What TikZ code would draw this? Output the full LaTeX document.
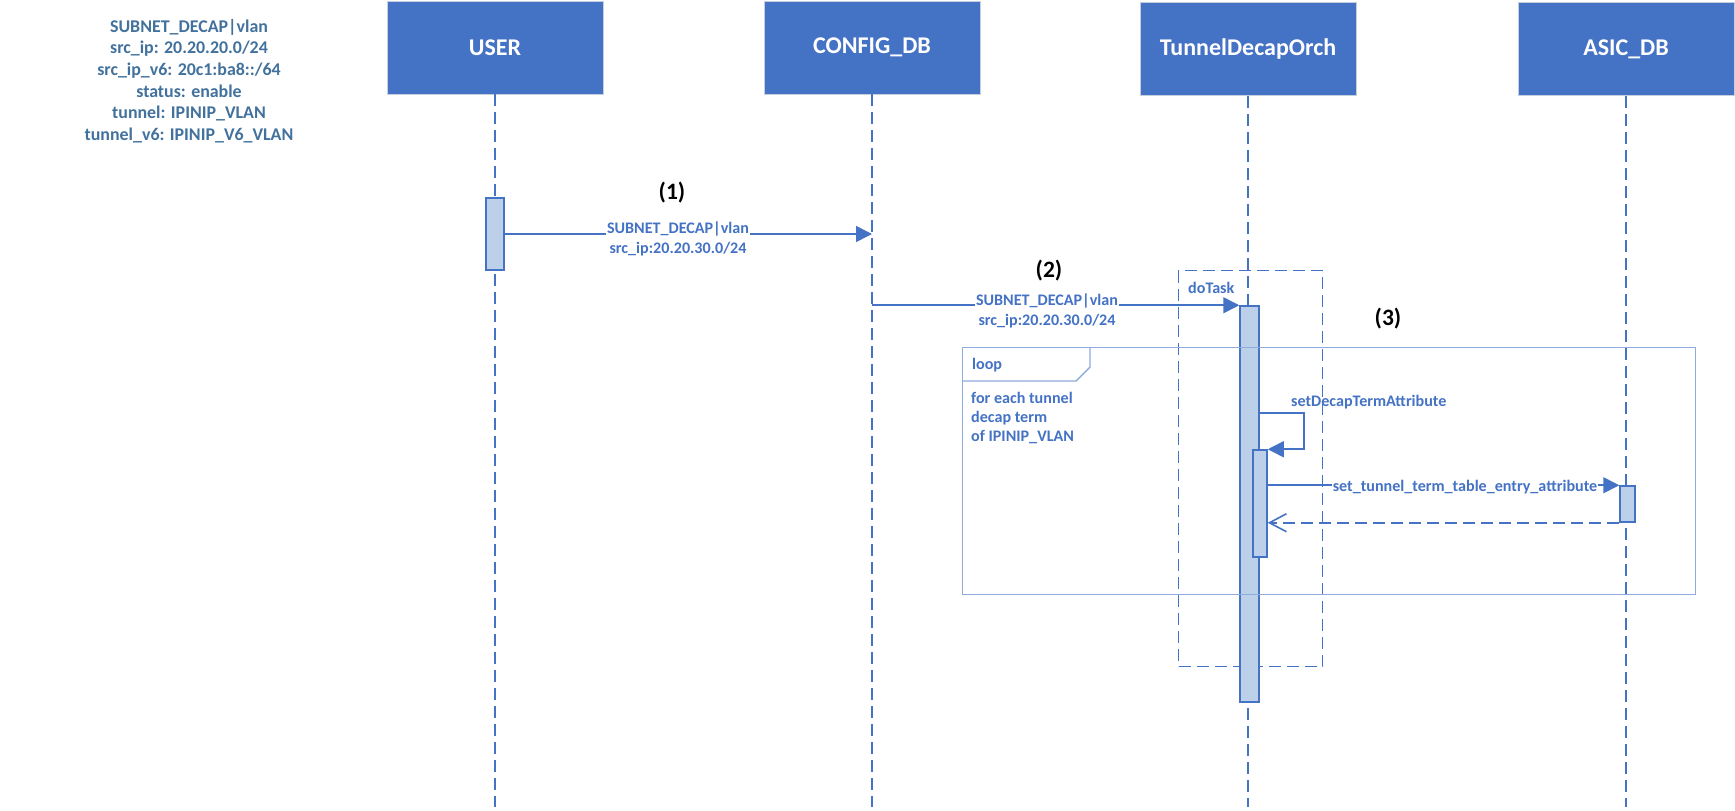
\documentclass[tikz,border=0pt]{standalone}
\usepackage{fontspec}
\setmainfont{Carlito}
\usetikzlibrary{arrows.meta}
\definecolor{bleu}{HTML}{4472C4}
\definecolor{bleupale}{HTML}{BDD0EA}
\definecolor{cadrebleu}{HTML}{8FAADC}
\definecolor{bordure}{HTML}{C5CEDD}
\definecolor{texte}{HTML}{41719C}
\begin{document}
\begin{tikzpicture}[x=1pt,y=-1pt,
  tete/.style={fill=bleu, draw=bordure, line width=0.8pt, text=white, inner sep=0pt,
    font=\fontsize{24}{28}\selectfont\bfseries, minimum width=216pt, minimum height=93pt},
  vie/.style={bleu, line width=2pt, dash pattern=on 12pt off 6pt},
  barre/.style={fill=bleupale, draw=bleu, line width=1.5pt, inner sep=0pt},
  msg/.style={bleu, line width=1.6pt, -{Triangle[length=16pt,width=16pt]}},
  retour/.style={bleu, line width=1.6pt, dash pattern=on 12pt off 6pt, -{Straight Barb[length=17pt,width=18pt]}},
  etiq/.style={text=bleu, font=\fontsize{16.1}{19}\selectfont\bfseries, inner sep=1pt},
  numero/.style={font=\fontsize{23.5}{27}\selectfont\bfseries},
  tache/.style={draw=bleu, line width=1.4pt, dash pattern=on 12pt off 6pt},
  cadre/.style={draw=cadrebleu, line width=1.4pt}]
\useasboundingbox (0,0) rectangle (1735,811);
% Les attributs de la table
\node[text=texte, font=\fontsize{17.9}{21.6}\selectfont\bfseries, align=center, anchor=north, inner sep=0pt] (attributs) at (189,19)
  {SUBNET\_DECAP\textbar vlan\\ src\_ip: 20.20.20.0/24\\ src\_ip\_v6: 20c1:ba8::/64\\ status: enable\\ tunnel: IPINIP\_VLAN\\ tunnel\_v6: IPINIP\_V6\_VLAN};

% Les quatre acteurs en haut
\node[tete] (user) at (495,47.5) {USER};
\node[tete] (config) at (872,47.5) {CONFIG\_DB};
\node[tete] (orch) at (1248,49) {TunnelDecapOrch};
\node[tete] (asic) at (1626,49) {ASIC\_DB};

% Les lignes de vie en pointilles
\coordinate (bas) at (0,807);
\foreach \n in {user,config,orch,asic}
  \draw[vie] (\n.south) -- (\n |- bas);

% Le cadre doTask
\node[tache, anchor=north west, minimum width=144pt, minimum height=396pt] (dotask) at (1178,270) {};
\node[etiq, anchor=base west] at (1187,293) {doTask};

% Les barres d'activation
\node[barre, minimum width=18pt, minimum height=72pt] (user-act) at (495,234) {};
\node[barre, minimum width=19pt, minimum height=396pt] (orch-act) at (1249.5,504) {};
\node[barre, minimum width=14pt, minimum height=107pt] (orch-self) at (1260,503.5) {};
\node[barre, minimum width=15pt, minimum height=36pt] (asic-act) at (1627.5,504) {};

% Le cadre loop avec son onglet
\node[cadre, anchor=north west, minimum width=733pt, minimum height=247pt] (boucle) at (962,347) {};
\draw[cadre] ([xshift=128pt]boucle.north west) -- ++(0,20) -- ++(-14,14) -- ++(-114,0);
\node[etiq, anchor=base west] at (971,369) {loop};
\node[etiq, anchor=north west, align=left, inner sep=0pt] at (971,392) {for each tunnel\\ decap term\\ of IPINIP\_VLAN};

% (1) USER vers CONFIG_DB
\draw[msg] (user-act.east) -- (user-act.east -| config);
\node[etiq, fill=white, anchor=base] at (678,233) {SUBNET\_DECAP\textbar vlan};
\node[etiq, anchor=base] at (678,253) {src\_ip:20.20.30.0/24};
\node[numero] at (672,193) {(1)};

% (2) CONFIG_DB vers TunnelDecapOrch
\draw[msg] (orch-act.north west -| config) -- (orch-act.north west);
\node[etiq, fill=white, anchor=base] at (1047,305) {SUBNET\_DECAP\textbar vlan};
\node[etiq, anchor=base] at (1047,325) {src\_ip:20.20.30.0/24};
\node[numero] at (1049,271) {(2)};

% (3) appel sur soi-meme puis vers ASIC_DB
\draw[msg] ([yshift=36pt]orch-self.north -| orch-act.east) -- ++(44,0) |- (orch-self.north east);
\node[etiq, anchor=base west] at (1290,406) {setDecapTermAttribute};
\draw[msg] (orch-self.east |- asic-act.north west) -- (asic-act.north west);
\node[etiq, fill=white, anchor=base] at (1465,491) {set\_tunnel\_term\_table\_entry\_attribute};
\draw[retour] (asic-act.south west) -- (orch-self.east |- asic-act.south west);
\node[numero] at (1388,319) {(3)};
\end{tikzpicture}
\end{document}
